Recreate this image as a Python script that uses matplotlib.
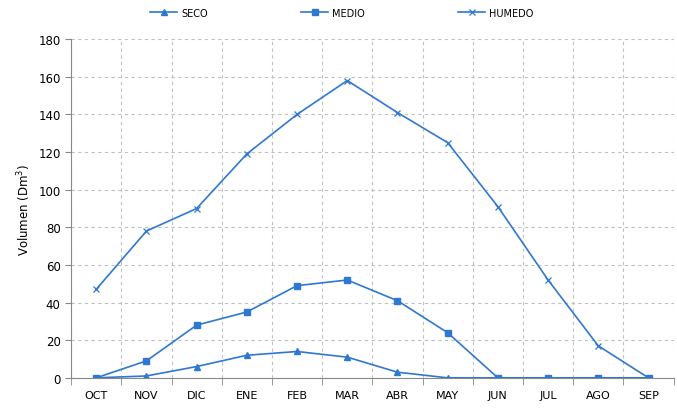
import matplotlib
matplotlib.use("Agg")
import matplotlib.pyplot as plt
import numpy as np

months = ["OCT", "NOV", "DIC", "ENE", "FEB", "MAR", "ABR", "MAY", "JUN", "JUL", "AGO", "SEP"]
seco = [0, 1, 6, 12, 14, 11, 3, 0, 0, 0, 0, 0]
medio = [0, 9, 28, 35, 49, 52, 41, 24, 0, 0, 0, 0]
humedo = [47, 78, 90, 119, 140, 158, 141, 125, 91, 52, 17, 0]

color = "#2f78d2"
fig = plt.figure(figsize=(6.77, 4.10), dpi=100)
ax = fig.add_axes([0.105, 0.076, 0.89, 0.826])
x = np.arange(len(months))

ax.plot(x, seco, color=color, lw=1.2, marker="^", ms=4.5, label="SECO")
ax.plot(x, medio, color=color, lw=1.2, marker="s", ms=4.5, label="MEDIO")
ax.plot(x, humedo, color=color, lw=1.2, marker="x", ms=4.5, mew=0.9, label="HUMEDO")

ax.set_xlim(-0.5, len(months) - 0.5)
ax.set_ylim(0, 180)
ax.set_yticks(np.arange(0, 181, 20))
ax.set_xticks(x)
ax.set_xticklabels(months)
ax.set_xticks(np.arange(-0.5, len(months), 1), minor=True)
ax.tick_params(axis="x", which="major", length=0, pad=9, labelsize=8)
ax.tick_params(axis="x", which="minor", length=5, color="#888888")
ax.tick_params(axis="y", length=4, color="#888888", labelsize=8.5)
ax.grid(True, axis="y", which="major", color="#c0c0c0", ls=(0, (3, 3)), lw=0.8)
ax.grid(True, axis="x", which="minor", color="#c0c0c0", ls=(0, (3, 3)), lw=0.8)
ax.set_axisbelow(True)
for s in ["top", "right"]:
    ax.spines[s].set_visible(False)
for s in ["left", "bottom"]:
    ax.spines[s].set_color("#888888")
ax.set_ylabel("Volumen (Dm$^3$)", fontsize=8.5)

fig.legend(loc="upper center", bbox_to_anchor=(0.505, 1.0), ncol=3, frameon=False,
           fontsize=7, columnspacing=9.6, handlelength=2.8, handletextpad=0.4)
fig.savefig("out.png", dpi=100)
